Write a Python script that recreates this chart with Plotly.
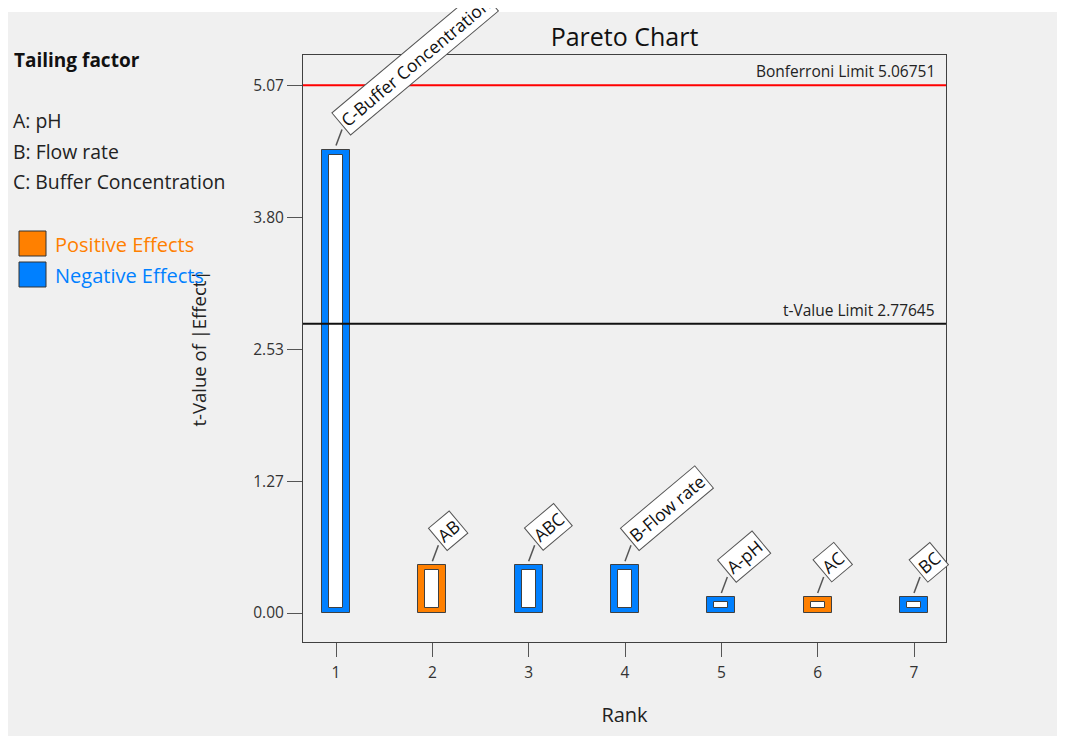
import plotly.graph_objects as go

# ---- data ----
ranks = [1, 2, 3, 4, 5, 6, 7]
terms = ["C-Buffer Concentration", "AB", "ABC", "B-Flow rate", "A-pH", "AC", "BC"]
t_values = [4.45, 0.46, 0.46, 0.46, 0.155, 0.155, 0.155]
effect_sign = ["neg", "pos", "neg", "neg", "neg", "pos", "neg"]
bonferroni_limit = 5.06751
t_value_limit = 2.77645
factor_names = ["A: pH", "B: Flow rate", "C: Buffer Concentration"]
response_name = "Tailing factor"
y_tick_vals = [bonferroni_limit * i / 4 for i in range(5)]
y_tick_text = [f"{v:.2f}" for v in y_tick_vals]

POS = "#ff8000"
NEG = "#0080ff"
EDGE = "#404040"
BG = "#f0f0f0"
FONT = "Segoe UI, Open Sans, Noto Sans, sans-serif"

OFF = 8  # page offset of the figure
W, H = 1057, 728
L, T = 303 - OFF, 55 - OFF
PW, PH = 643, 587
R, B = W - L - PW, H - T - PH


def sx(px):
    """screen x pixel -> paper x"""
    return (px - OFF - L) / PW


def sy(py):
    """screen y pixel -> paper y"""
    return (T + PH - (py - OFF)) / PH


colors = [POS if s == "pos" else NEG for s in effect_sign]
inset = 0.05

fig = go.Figure()
fig.add_trace(go.Bar(
    x=ranks, y=t_values, width=0.294,
    marker=dict(color=colors, line=dict(color=EDGE, width=1)),
    showlegend=False, hoverinfo="skip"))
fig.add_trace(go.Bar(
    x=ranks, y=[v - 2 * inset for v in t_values], base=[inset] * len(ranks), width=0.148,
    marker=dict(color="white", line=dict(color=EDGE, width=1)),
    showlegend=False, hoverinfo="skip"))

shapes = []
annotations = []

# white strip at top (as in the reference)
shapes.append(dict(type="rect", xref="paper", yref="paper",
                   x0=sx(0), x1=sx(W + 40), y0=sy(12), y1=sy(0),
                   fillcolor="white", line=dict(width=0), layer="below"))

# limit lines
shapes.append(dict(type="line", xref="paper", yref="y", x0=0, x1=1,
                   y0=bonferroni_limit, y1=bonferroni_limit,
                   line=dict(color="#ff0000", width=2)))
shapes.append(dict(type="line", xref="paper", yref="y", x0=0, x1=1,
                   y0=t_value_limit, y1=t_value_limit,
                   line=dict(color="#111111", width=2)))
annotations.append(dict(xref="paper", yref="y", x=1, y=bonferroni_limit,
                        text=f"Bonferroni Limit {bonferroni_limit}", showarrow=False,
                        xanchor="right", yanchor="bottom", xshift=-9, yshift=1,
                        font=dict(family=FONT, size=15.5, color="#222")))
annotations.append(dict(xref="paper", yref="y", x=1, y=t_value_limit,
                        text=f"t-Value Limit {t_value_limit}", showarrow=False,
                        xanchor="right", yanchor="bottom", xshift=-9, yshift=1,
                        font=dict(family=FONT, size=15.5, color="#222")))

# bar labels with leader lines
for r, v, name in zip(ranks, t_values, terms):
    shapes.append(dict(type="line", xref="x", yref="y",
                       xsizemode="pixel", ysizemode="pixel",
                       xanchor=r, yanchor=v, x0=0, x1=6, y0=4, y1=20,
                       line=dict(color="#555", width=1.5)))
    annotations.append(dict(xref="x", yref="y", x=r, y=v, text=name,
                            textangle=-40, showarrow=False,
                            xanchor="left", yanchor="bottom", xshift=-5, yshift=14,
                            bgcolor="white", bordercolor="#555", borderwidth=1, borderpad=2,
                            font=dict(family=FONT, size=17.5, color="#111")))

# left panel
annotations.append(dict(xref="paper", yref="paper", x=sx(12), y=sy(60),
                        text=f"<b>{response_name}</b>", showarrow=False,
                        xanchor="left", yanchor="middle",
                        font=dict(family=FONT, size=19, color="#111")))
for i, f in enumerate(factor_names):
    annotations.append(dict(xref="paper", yref="paper", x=sx(11), y=sy(121 + 30.5 * i),
                            text=f, showarrow=False, xanchor="left", yanchor="middle",
                            font=dict(family=FONT, size=19.4, color="#222")))

legend_items = [("Positive Effects", POS), ("Negative Effects", NEG)]
for i, (lab, col) in enumerate(legend_items):
    top = 231 + 31 * i
    shapes.append(dict(type="rect", xref="paper", yref="paper",
                       x0=sx(19), x1=sx(46), y0=sy(top + 25), y1=sy(top),
                       fillcolor=col, line=dict(color="#333", width=1)))
    annotations.append(dict(xref="paper", yref="paper", x=sx(53), y=sy(top + 13),
                            text=lab, showarrow=False, xanchor="left", yanchor="middle",
                            font=dict(family=FONT, size=20, color=col)))

fig.update_layout(
    width=W, height=H,
    margin=dict(l=L, r=R, t=T, b=B, pad=0),
    paper_bgcolor=BG, plot_bgcolor="rgba(0,0,0,0)",
    barmode="overlay", bargap=0,
    title=dict(text="Pareto Chart", x=(L + PW / 2) / W, xanchor="center",
               y=1 - (37 - OFF) / H, yanchor="middle",
               font=dict(family=FONT, size=25, color="#111")),
    shapes=shapes, annotations=annotations,
    showlegend=False,
    font=dict(family=FONT),
)
fig.update_xaxes(range=[1 - 33 / 96.33, 7 + 32 / 96.33],
                 tickvals=ranks, ticktext=[str(r) for r in ranks],
                 ticks="outside", ticklen=14, tickcolor="#555", tickwidth=1,
                 ticklabelstandoff=2,
                 showline=True, linecolor=EDGE, linewidth=1, mirror=True,
                 showgrid=False, zeroline=False,
                 tickfont=dict(family=FONT, size=15.5, color="#333"),
                 title=dict(text="Rank", standoff=26, font=dict(family=FONT, size=20, color="#222")))
fig.update_yaxes(range=[-0.278, 5.358],
                 tickvals=y_tick_vals, ticktext=y_tick_text,
                 ticks="outside", ticklen=15, tickcolor="#555", tickwidth=1,
                 showline=True, linecolor=EDGE, linewidth=1, mirror=True,
                 showgrid=False, zeroline=False,
                 tickfont=dict(family=FONT, size=15.5, color="#333"),
                 title=dict(text="t-Value of |Effect|", standoff=41,
                            font=dict(family=FONT, size=18.5, color="#222")))

fig.write_html("out.html")
